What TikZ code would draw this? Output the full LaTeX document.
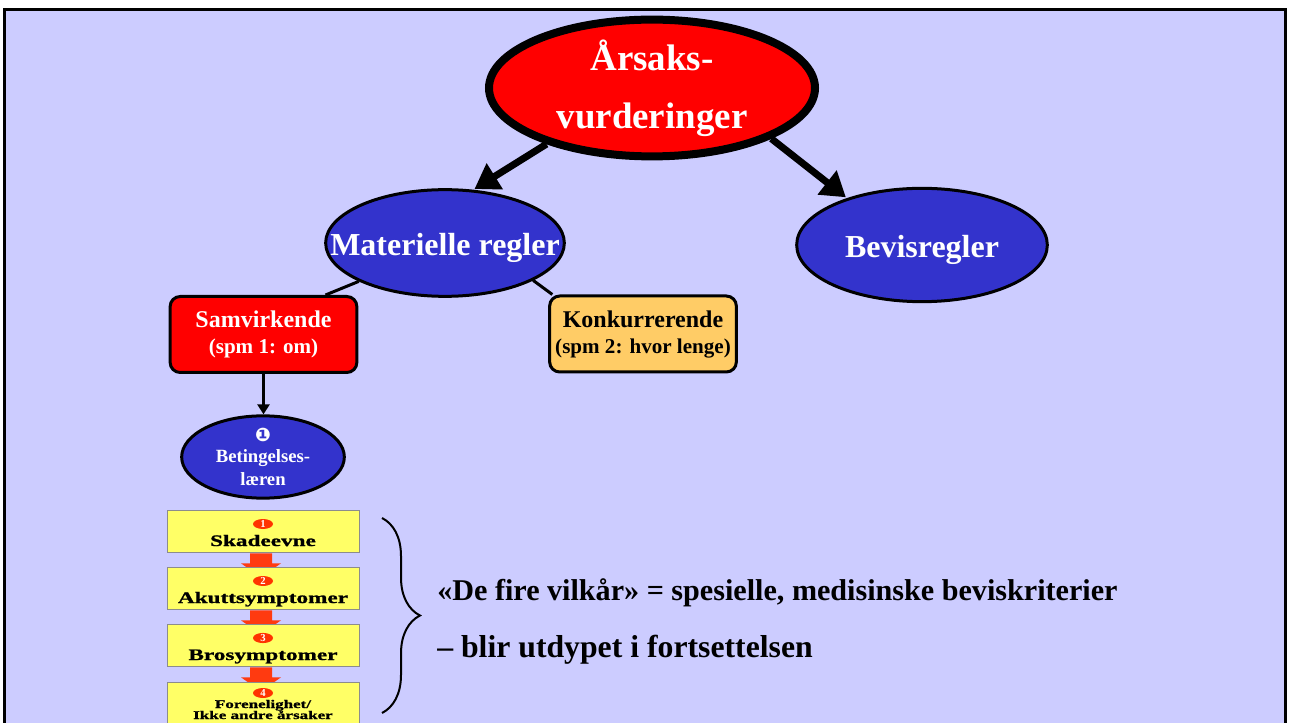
\documentclass[tikz,border=0pt]{standalone}
\usepackage{fontspec}
\setmainfont{Liberation Serif}
\newfontfamily\dejavu{DejaVu Sans}
\newfontfamily\widefont[FakeStretch=1.45,FakeBold=1.2]{Liberation Serif}
\usetikzlibrary{shapes.geometric,arrows.meta,decorations.pathreplacing,calc}
\definecolor{lav}{HTML}{CCCCFF}
\definecolor{blu}{HTML}{3333CC}
\definecolor{konk}{HTML}{FFCC66}
\definecolor{yel}{HTML}{FFFF66}
\definecolor{badge}{HTML}{FF3300}
\definecolor{redarrow}{HTML}{FF3A10}
\pgfdeclarelayer{bg}
\pgfdeclarelayer{edges}
\pgfsetlayers{bg,edges,main}
\begin{document}
\begin{tikzpicture}[x=0.75pt,y=-0.75pt,
  topell/.style={ellipse, draw=black, fill=red, line width=6pt, inner sep=0pt,
    minimum width=244.5pt, minimum height=102pt, text=white, align=center,
    font=\bfseries\fontsize{27.7}{43.5}\selectfont},
  blueell/.style={ellipse, draw=black, fill=blu, line width=2.25pt, inner sep=0pt, text=white},
  bigtxt/.style={font=\bfseries\fontsize{24}{28}\selectfont, text height=19.5pt, text depth=0pt},
  rbox/.style={draw=black, rounded corners=7.5pt, line width=2.25pt, inner sep=0pt, align=center,
    minimum width=140pt, minimum height=57pt, font=\bfseries\fontsize{18}{19.5}\selectfont},
  ybox/.style={draw=black!45, fill=yel, line width=0.75pt, minimum width=144pt, minimum height=32pt, inner sep=0pt},
  badgenode/.style={ellipse, fill=badge, minimum width=15pt, minimum height=7.5pt, inner sep=0pt,
    text=white, font=\bfseries\fontsize{8}{8}\selectfont},
  ytxt/.style={anchor=base, inner sep=0pt, font=\widefont\bfseries\fontsize{12}{12}\selectfont},
  ysmall/.style={anchor=base, inner sep=0pt, font=\widefont\bfseries\fontsize{8.8}{9}\selectfont},
  thickarrow/.style={line width=5.25pt, -{Triangle[length=18pt,width=22pt]}},
  thinline/.style={line width=2.25pt},
  desc/.style={anchor=base west, inner sep=0pt}
]
\useasboundingbox (0,0) rectangle (1292,723);
\begin{pgfonlayer}{bg}
  \fill[white] (0,0) rectangle (1292,723);
  \draw[fill=lav, line width=2.25pt] (4.5,9.5) rectangle (1285.5,760);
\end{pgfonlayer}

% main nodes
\node[topell] (top) at (652,88) {Årsaks-\\vurderinger};
\node[blueell, bigtxt, minimum width=179pt, minimum height=80pt] (mat) at (445,243) {\makebox[0pt]{Materielle regler}};
\node[blueell, bigtxt, minimum width=188pt, minimum height=85pt] (bev) at (922,245) {\makebox[0pt]{Bevisregler}};
\node[rbox, fill=red, text=white] (samv) at (263.5,334.5) {Samvirkende\\{\fontsize{15.8}{19.5}\selectfont (spm 1: om)}};
\node[rbox, fill=konk, text=black] (konk) at (643,334) {Konkurrerende\\{\fontsize{15.8}{19.5}\selectfont (spm 2: hvor lenge)}};
\node[blueell, minimum width=122pt, minimum height=61pt, align=center,
  font=\bfseries\fontsize{14}{17.25}\selectfont] (bet) at (263,457)
  {{\dejavu\fontsize{14}{12}\selectfont ❶}\\[-1pt]Betingelses-\\læren};

% yellow steps
\node[ybox] (s1) at (263,531.5) {};
\node[ybox] (s2) at (263,588.5) {};
\node[ybox] (s3) at (263,645.5) {};
\node[ybox] (s4) at (263,703.5) {};
\node[badgenode] (b1) at (263,524) {1};
\node[badgenode] (b2) at (263,581) {2};
\node[badgenode] (b3) at (263,638) {3};
\node[badgenode] (b4) at (263,693) {4};
\node[ytxt] (t1) at (263,546) {Skadeevne};
\node[ytxt] (t2) at (263,603) {Akuttsymptomer};
\node[ytxt] (t3) at (263,660) {Brosymptomer};
\node[ysmall] (t4a) at (263,708) {Forenelighet/};
\node[ysmall] (t4b) at (263,719) {Ikke andre årsaker};

% connectors
\begin{pgfonlayer}{edges}
  \draw[thickarrow, shorten >=1pt] (top.208) -- (mat.62.6);
  \draw[thickarrow, shorten >=1pt] (top.337) -- (bev.148);
  \draw[thinline] (mat.204.7) -- ([xshift=46.5pt]samv.north);
  \draw[thinline] (mat.337) -- ([xshift=-68pt]konk.north);
  \foreach \a/\b in {s1/s2,s2/s3,s3/s4}{
    \fill[redarrow] ($(\a.south)+(-13,0)$) -- ($(\a.south)+(9,0)$) -- ($(\a.south)+(9,10)$)
      -- ($(\a.south)+(18,10)$) -- ($(\a.south)+(-2,24)$) -- ($(\a.south)+(-22,10)$)
      -- ($(\a.south)+(-13,10)$) -- cycle;
  }
\end{pgfonlayer}
\draw[thinline, -{Triangle[length=7.5pt,width=9pt]}] (samv.south) -- (samv.south |- bet.north);

% brace and description
\coordinate (bt) at (382,518);
\coordinate (bb) at (382,713);
\draw[line width=1.5pt, decorate, decoration={brace, amplitude=28.5pt}] (bt) -- (bb);
\node[desc, font=\bfseries\fontsize{22.6}{28}\selectfont] (d1) at (437,600) {«De fire vilkår» = spesielle, medisinske beviskriterier};
\node[desc, font=\bfseries\fontsize{23.8}{28}\selectfont] (d2) at (437,657) {– blir utdypet i fortsettelsen};
\end{tikzpicture}
\end{document}
